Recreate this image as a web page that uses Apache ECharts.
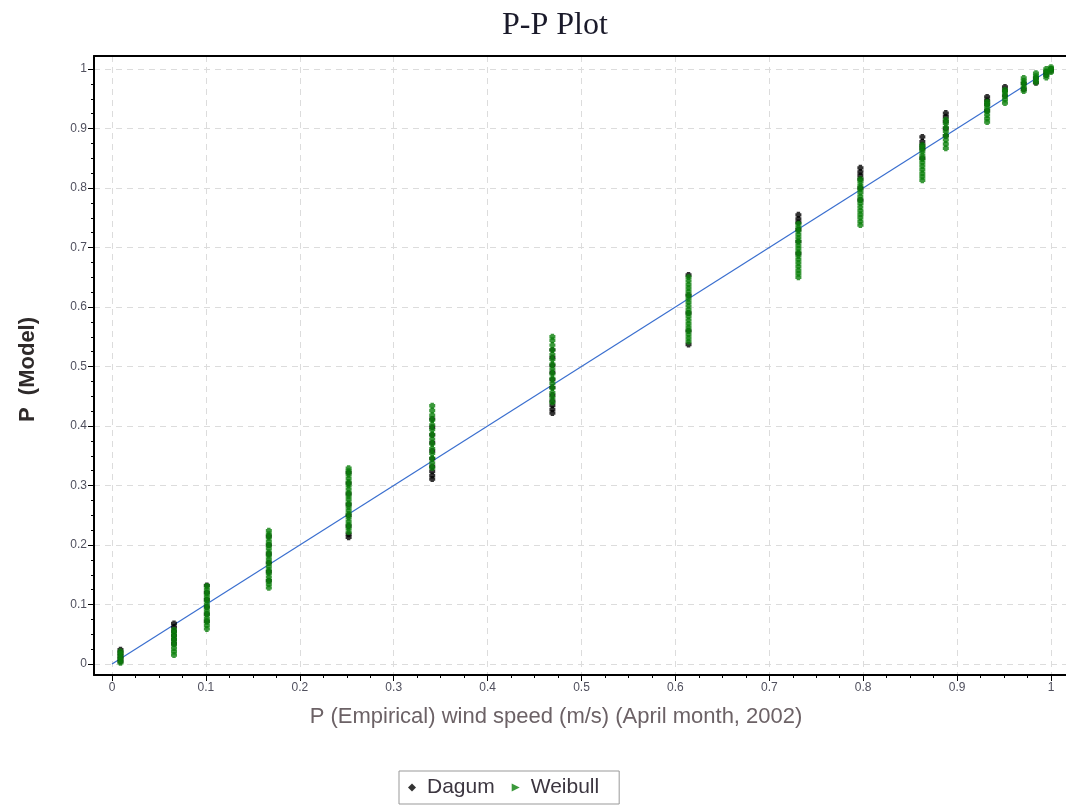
<!DOCTYPE html>
<html>
<head>
<meta charset="utf-8">
<script src="https://cdn.jsdelivr.net/npm/echarts@6/dist/echarts.min.js"></script>
<style>
  html, body { margin: 0; padding: 0; background: #fff; }
  #chart { width: 1066px; height: 805px; }
</style>
</head>
<body>
<div id="chart"></div>
<script>
// empirical P of each tied group (x) and the model P values
var empirical = [0.009, 0.066, 0.101, 0.167, 0.252, 0.341, 0.469, 0.614, 0.731,
                 0.797, 0.863, 0.888, 0.932, 0.951, 0.971, 0.984, 0.995, 1.0];

var weibullP = [
    [0.002, 0.007, 0.012, 0.017, 0.021],
    [0.015, 0.021, 0.027, 0.033, 0.039, 0.045, 0.051, 0.057],
    [0.059, 0.065, 0.071, 0.077, 0.083, 0.089, 0.095, 0.101, 0.107, 0.113, 0.119, 0.125, 0.131],
    [0.128, 0.134, 0.140, 0.146, 0.152, 0.158, 0.164, 0.170, 0.176, 0.182, 0.188, 0.194, 0.200, 0.206, 0.212, 0.218, 0.224],
    [0.222, 0.228, 0.234, 0.240, 0.246, 0.252, 0.258, 0.264, 0.270, 0.276, 0.282, 0.288, 0.294, 0.300, 0.306, 0.312, 0.318, 0.324, 0.329],
    [0.330, 0.338, 0.346, 0.354, 0.362, 0.370, 0.378, 0.386, 0.394, 0.402, 0.410, 0.418, 0.426, 0.434],
    [0.440, 0.448, 0.456, 0.464, 0.472, 0.480, 0.488, 0.496, 0.504, 0.512, 0.520, 0.528, 0.536, 0.544, 0.550],
    [0.542, 0.548, 0.554, 0.560, 0.566, 0.572, 0.578, 0.584, 0.590, 0.596, 0.602, 0.608, 0.614, 0.620, 0.626, 0.632, 0.638, 0.644, 0.650],
    [0.650, 0.656, 0.662, 0.668, 0.674, 0.680, 0.686, 0.692, 0.698, 0.704, 0.710, 0.716, 0.722, 0.728, 0.734, 0.740],
    [0.738, 0.744, 0.750, 0.756, 0.762, 0.768, 0.774, 0.780, 0.786, 0.792, 0.798, 0.804, 0.810, 0.815],
    [0.813, 0.819, 0.825, 0.831, 0.837, 0.843, 0.849, 0.855, 0.861, 0.867, 0.872],
    [0.867, 0.874, 0.881, 0.888, 0.895, 0.902, 0.909, 0.915],
    [0.911, 0.917, 0.923, 0.929, 0.935, 0.941, 0.945],
    [0.943, 0.949, 0.955, 0.961, 0.965],
    [0.963, 0.969, 0.975, 0.980, 0.985],
    [0.978, 0.983, 0.988, 0.993],
    [0.986, 0.991, 0.996, 1.000],
    [0.995, 1.000, 1.003]
];

var dagumP = [
    [0.004, 0.009, 0.014, 0.019, 0.024],
    [0.034, 0.041, 0.048, 0.055, 0.062, 0.068],
    [0.072, 0.084, 0.096, 0.108, 0.120, 0.132],
    [0.140, 0.155, 0.170, 0.185, 0.200, 0.215],
    [0.213, 0.218, 0.232, 0.250, 0.268, 0.286, 0.304, 0.322],
    [0.311, 0.317, 0.324, 0.332, 0.345, 0.358, 0.372, 0.385, 0.398, 0.412],
    [0.422, 0.428, 0.435, 0.442, 0.452, 0.465, 0.478, 0.490, 0.502, 0.515, 0.528],
    [0.537, 0.560, 0.590, 0.620, 0.654],
    [0.690, 0.710, 0.730, 0.742, 0.748, 0.755],
    [0.780, 0.800, 0.815, 0.821, 0.827, 0.834],
    [0.850, 0.866, 0.872, 0.878, 0.886],
    [0.888, 0.900, 0.912, 0.920, 0.926],
    [0.930, 0.941, 0.947, 0.953],
    [0.955, 0.964, 0.970],
    [0.966, 0.976],
    [0.977, 0.985],
    [0.990, 0.995],
    [0.997, 1.000]
];

var tickValues = [0, 0.1, 0.2, 0.3, 0.4, 0.5, 0.6, 0.7, 0.8, 0.9, 1];
var refLine = [[0, 0], [1, 1]];

function points(groups) {
    var out = [];
    empirical.forEach(function (x, i) {
        groups[i].forEach(function (y) { out.push([x, y]); });
    });
    return out;
}

// minor ticks: 3 between each pair of labelled ticks
var minorValues = [];
for (var i = 0; i < tickValues.length - 1; i++) {
    var step = (tickValues[i + 1] - tickValues[i]) / 4;
    for (var k = 1; k < 4; k++) minorValues.push(tickValues[i] + step * k);
}

// chunky plus marker, so dense groups merge into a solid bar
var plus = 'path://M1.5,0H5.5V1.5H7V5.5H5.5V7H1.5V5.5H0V1.5H1.5Z';
var labelColor = '#50505e';
var X_MIN = -0.0192, X_MAX = 1.016;
var Y_MIN = -0.0185, Y_MAX = 1.022;

var chart = echarts.init(document.getElementById('chart'));

function mainAxis(min, max) {
    return {
        type: 'value',
        min: min,
        max: max,
        axisLine: { show: true, onZero: false, lineStyle: { color: '#000', width: 2 } },
        axisTick: { show: true, customValues: tickValues, length: 6, lineStyle: { color: '#000', width: 1 } },
        axisLabel: {
            customValues: tickValues,
            color: labelColor,
            fontFamily: 'Liberation Sans',
            fontSize: 12,
            margin: 7,
            formatter: function (v) { return String(v); }
        },
        splitLine: { show: true, lineStyle: { color: '#dcdcdc', type: [6, 5], width: 1 } }
    };
}

function minorAxis(min, max, pos) {
    return {
        type: 'value',
        min: min,
        max: max,
        position: pos,
        axisLine: { show: false, onZero: false },
        axisTick: { show: true, customValues: minorValues, length: 3, lineStyle: { color: '#000', width: 1 } },
        axisLabel: { show: false },
        splitLine: { show: false }
    };
}

var xMain = mainAxis(X_MIN, X_MAX);
xMain.position = 'bottom';
var yMain = mainAxis(Y_MIN, Y_MAX);
yMain.position = 'left';
yMain.name = 'P  (Model)';
yMain.nameLocation = 'middle';
yMain.nameGap = 55;
yMain.nameTextStyle = { fontFamily: 'Liberation Sans', fontSize: 22, fontWeight: 'bold', color: '#2e2a2a', padding: [0, 0, 0, -8] };

// top frame line only
var xTop = {
    type: 'value',
    min: X_MIN,
    max: X_MAX,
    position: 'top',
    axisLine: { show: true, onZero: false, lineStyle: { color: '#000', width: 2 } },
    axisTick: { show: false },
    axisLabel: { show: false },
    splitLine: { show: false }
};

var option = {
    animation: false,
    backgroundColor: '#fff',
    title: {
        text: 'P-P Plot',
        left: 497,
        top: 5,
        textStyle: { fontFamily: 'Liberation Serif', fontSize: 32, fontWeight: 'normal', color: '#1a1a2a' }
    },
    graphic: [{
        type: 'text',
        x: 556,
        y: 706,
        style: {
            text: 'P (Empirical) wind speed (m/s) (April month, 2002)',
            align: 'center',
            fontFamily: 'Liberation Sans',
            fontSize: 22,
            fill: '#6c6266'
        }
    }],
    legend: {
        left: 399,
        top: 771,
        padding: [6, 20, 6, 9],
        borderColor: '#999',
        borderWidth: 1,
        itemWidth: 8,
        itemHeight: 8,
        itemGap: 17,
        textStyle: { fontFamily: 'Liberation Sans', fontSize: 21, color: '#3c3640', padding: [0, 0, 0, 6] },
        data: [
            { name: 'Dagum', icon: 'diamond', itemStyle: { color: '#000' } },
            { name: 'Weibull', icon: 'path://M0,0L10,5L0,10Z', itemStyle: { color: '#0a800a' } }
        ]
    },
    grid: {
        left: 94,
        top: 56,
        right: 0,
        bottom: 130
    },
    xAxis: [xMain, minorAxis(X_MIN, X_MAX, 'bottom'), xTop],
    yAxis: [yMain, minorAxis(Y_MIN, Y_MAX, 'left')],
    series: [
        {
            name: 'Reference',
            type: 'line',
            data: refLine,
            symbol: 'none',
            lineStyle: { color: '#3a6fcf', width: 1.2 },
            z: 1
        },
        {
            name: 'Dagum',
            type: 'scatter',
            data: points(dagumP),
            symbol: plus,
            symbolSize: 6,
            itemStyle: { color: '#000' },
            z: 2
        },
        {
            name: 'Weibull',
            type: 'scatter',
            data: points(weibullP),
            symbol: plus,
            symbolSize: 6,
            itemStyle: { color: '#0a800a' },
            z: 3
        }
    ]
};

chart.setOption(option);
</script>
</body>
</html>
